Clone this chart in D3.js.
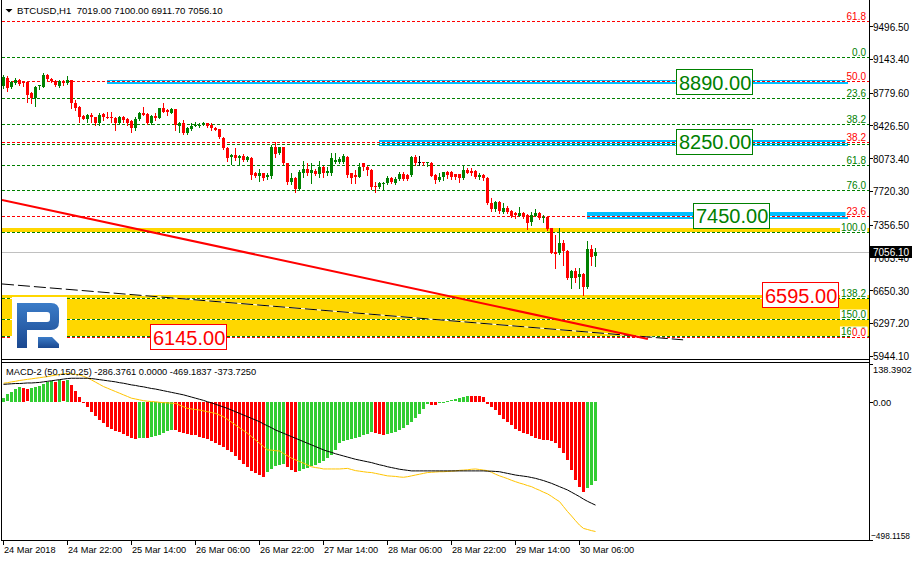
<!DOCTYPE html>
<html>
<head>
<meta charset="utf-8">
<script src="https://cdn.jsdelivr.net/npm/d3@7/dist/d3.min.js"></script>
<style>
html,body{margin:0;padding:0;background:#ffffff;overflow:hidden;}
svg{display:block;}
text{font-family:"Liberation Sans",Arial,sans-serif;}
</style>
</head>
<body>
<svg id="chart" width="912" height="561"></svg>
<script>
// ================= DATA =================
const chartTitle = "BTCUSD,H1  7019.00 7100.00 6911.70 7056.10";
const macdTitle = "MACD-2 (50,150,25) -286.3761 0.0000 -469.1837 -373.7250";

const opens = [
8850,8933,8836,8885,8915,8896,8890,8770,8717,8850,
8843,8965,8925,8907,8853,8903,8880,8915,8664,8627,
8527,8491,8537,8513,8449,8545,8520,8520,8509,8449,
8520,8491,8473,8400,8491,8556,8548,8449,8527,8509,
8610,8591,8562,8598,8423,8449,8340,8384,8420,8415,
8430,8449,8430,8400,8383,8293,8185,8082,8107,8078,
8100,8053,8071,7909,7883,7909,7865,7880,8189,8125,
8189,8017,7819,7862,7737,7909,7955,7909,7937,7902,
7980,7909,7909,8028,8035,8035,8089,7909,7891,7873,
8017,7974,7945,7772,7765,7790,7801,7855,7801,7844,
7898,7891,7891,8089,8030,8028,8017,8024,7891,7837,
7873,7927,7927,7898,7898,7855,7945,7935,7935,7865,
7891,7862,7592,7521,7603,7496,7532,7503,7478,7453,
7485,7460,7388,7453,7485,7424,7435,7316,7060,7054,
7155,7075,6777,6860,6790,6823,6681,7094,7019];
const highs = [
8969,8955,8905,8940,8925,8905,8900,8790,8850,8860,
8987,8980,8935,8918,8912,8915,8960,8920,8700,8635,
8535,8545,8555,8520,8555,8560,8566,8566,8515,8525,
8530,8500,8480,8520,8570,8627,8560,8535,8555,8615,
8664,8600,8610,8605,8465,8484,8412,8449,8465,8449,
8465,8455,8449,8412,8390,8300,8190,8115,8180,8105,
8115,8100,8080,7927,7952,7915,7909,8214,8250,8195,
8195,8025,7909,7870,7945,8042,8017,8017,7955,8042,
7990,7980,8125,8125,8080,8117,8100,7915,7945,8017,
8025,7985,7955,7820,7820,7820,7880,7865,7873,7927,
7920,7905,8100,8107,8096,8035,8035,8035,7900,7909,
7927,7935,7935,7905,7905,7999,7963,7963,7945,7909,
7900,7870,7640,7615,7615,7586,7557,7515,7496,7550,
7496,7470,7496,7521,7496,7460,7445,7325,7245,7316,
7190,7085,6870,6885,6885,6830,7180,7137,7100];
const lows = [
8829,8799,8830,8870,8860,8850,8680,8670,8637,8815,
8840,8915,8890,8850,8835,8865,8875,8610,8590,8465,
8490,8465,8465,8430,8430,8484,8500,8465,8376,8445,
8465,8430,8358,8376,8480,8535,8445,8445,8484,8505,
8565,8537,8555,8376,8358,8335,8335,8375,8415,8405,
8425,8412,8376,8375,8290,8170,8042,8010,8053,8010,
8045,8045,7848,7873,7830,7837,7845,7860,8089,8120,
8010,7794,7794,7711,7730,7873,7891,7808,7890,7873,
7873,7891,7891,8017,8020,8025,7873,7801,7801,7865,
7945,7891,7737,7711,7747,7729,7790,7801,7795,7837,
7837,7837,7880,8000,8000,8000,7990,7880,7801,7830,
7837,7855,7844,7844,7819,7850,7909,7891,7855,7844,
7837,7580,7507,7507,7478,7478,7478,7442,7424,7445,
7424,7309,7352,7445,7413,7388,7298,7050,6886,7045,
6922,6770,6670,6742,6670,6595,6670,6922,6911.7];
const closes = [
8947,8825,8896,8915,8870,8879,8753,8717,8843,8857,
8968,8922,8903,8860,8903,8880,8915,8664,8617,8513,
8498,8537,8513,8449,8537,8513,8510,8502,8455,8513,
8484,8455,8394,8491,8556,8537,8449,8527,8509,8610,
8573,8573,8598,8430,8449,8340,8394,8420,8430,8433,
8452,8423,8394,8380,8297,8178,8078,8107,8071,8096,
8053,8082,7891,7883,7909,7855,7891,8189,8114,8189,
8017,7819,7862,7737,7927,7952,7909,7945,7902,7980,
7909,7937,8071,8053,8060,8100,7891,7855,7873,7980,
7980,7945,7765,7765,7801,7808,7855,7819,7844,7898,
7844,7844,8089,8017,8030,8017,8028,7885,7837,7873,
7920,7891,7873,7873,7855,7945,7916,7909,7873,7891,
7855,7586,7521,7603,7503,7532,7496,7453,7460,7485,
7453,7370,7460,7485,7424,7435,7306,7054,7045,7155,
7075,6777,6860,6777,6823,6681,7094,7004,7056.1];

const macdHist = [
15,27,37,46,55,50,45,49,53,58,
64,71,76,72,78,74,80,62,38,18,
-4,-18,-35,-52,-65,-76,-90,-98,-105,-110,
-116,-124,-131,-134,-131,-129,-132,-127,-123,-118,
-112,-106,-101,-103,-107,-111,-115,-118,-121,-125,
-129,-134,-140,-147,-155,-163,-172,-182,-196,-210,
-223,-236,-248,-257,-264,-273,-253,-241,-231,-229,
-226,-235,-247,-253,-249,-244,-239,-233,-227,-220,
-212,-203,-193,-172,-150,-140,-137,-135,-131,-127,
-120,-114,-109,-113,-116,-119,-116,-113,-108,-102,
-94,-84,-72,-58,-42,-26,-8,-10,-11,-5,
-1,2,5,9,13,18,22,21.5,21,20,
17,-8,-18,-30,-46,-60,-72,-84,-96,-105,
-111,-117,-123,-129,-133,-136,-138,-142,-150,-165,
-186,-210,-247,-283,-307,-325,-312,-300,-286.3761];
const macdBlack = [
63,64,65,66,66,67,68,68,69,70,
72,74,76,78,80,82,84,85,85,85,
85,85,84,82,80,78,76,74,72,69,
67,64,61,59,56,54,51,48,46,43,
40,37,34,31,28,25,21,17,13,9,
5,0,-4,-9,-14,-19,-24,-30,-36,-42,
-48,-54,-60,-66,-72,-80,-87,-94,-102,-108,
-114,-120,-126,-132,-138,-144,-150,-156,-162,-168,
-174,-179,-183,-188,-192,-196,-200,-204,-208,-211,
-214,-217,-220,-224,-228,-231,-235,-238,-241,-244,
-246,-248,-250,-250,-250,-250,-250,-250,-250,-250,
-250,-250,-250,-250,-250,-250,-250,-250,-250,-250,
-250,-251,-251,-252,-253,-256,-259,-262,-265,-267,
-269,-271,-274,-277,-281,-285,-290,-295,-301,-307,
-313,-319,-327,-335,-343,-352,-360,-367,-373.725];
const macdYellow = [
67,69,72,74,77,79,81,83,85,87,
89,91,94,96,99,101,102,101,99,97,
92,86,79,71,63,55,49,43,37,31,
25,19,13,10,7,4,2,1,0,-2,
-3,-4,-5,-6,-12,-18,-24,-26,-28,-30,
-33,-36,-39,-42,-48,-54,-64,-74,-84,-94,
-104,-114,-126,-138,-150,-162,-174,-175,-177,-178,
-187,-195,-204,-210,-216,-222,-229,-235,-238,-240,
-243,-243,-243,-243,-243,-242,-241,-245,-249,-251,
-253,-255,-256,-259,-262,-265,-268,-269,-270,-272,
-273,-271,-268,-265,-262,-259,-256,-255,-254,-253,
-253,-252,-251,-250,-248,-247,-246,-244,-243,-245,
-247,-249,-255,-262,-268,-273,-278,-284,-289,-294,
-298,-303,-307,-314,-320,-327,-333,-342,-352,-361,
-379,-397,-413,-430,-446,-458,-462,-466,-469.1837];

const priceTicks = [9496.50, 9143.40, 8779.60, 8426.50, 8073.40, 7720.30, 7356.50, 7003.40, 6650.30, 6297.20, 5944.10];
const macdTicks = [138.3902, 0, -498.1158];
const timeLabels = ["24 Mar 2018","24 Mar 22:00","25 Mar 14:00","26 Mar 06:00","26 Mar 22:00","27 Mar 14:00","28 Mar 06:00","28 Mar 22:00","29 Mar 14:00","30 Mar 06:00"];
const timeLabelBars = [0,16,32,48,64,80,96,112,128,144];
const lastPrice = 7056.10;

// Fibonacci objects (price at 0% and at 100%)
const greenFibRange = [9160, 7282];
const greenFibLevels = [0, 23.6, 38.2, 50, 61.8, 76, 100, 138.2, 150, 160];
const greenFibText = ["0.0","23.6","38.2","","61.8","76.0","100.0","138.2","150.0","160.0"];
const redFibRange = [6145, 11655];
const redFibLevels = [0, 23.6, 38.2, 50, 61.8];
const redFibText = ["0.0","23.6","38.2","50.0","61.8"];

// zones (bar index start/end, price top/bottom)
const blueZoneStart = [25.8, 93.9, 145.9];
const blueZoneEnd = [211.1, 211.1, 211.1];
const blueZoneTop = [8915, 8272, 7490];
const blueZoneBottom = [8873, 8200, 7414];
const yellowZoneTop = [7318, 6595];
const yellowZoneBottom = [7262, 6145];

// trend lines (bar index, price)
const redTrendBars = [-0.375, 161.1];
const redTrendPrices = [7622, 6124];
const blackTrendBars = [-0.375, 169.9];
const blackTrendPrices = [6717, 6115];

// price text objects
const noteTexts = ["8890.00","8250.00","7450.00","6595.00","6145.00"];
const notePrices = [8890, 8250, 7450, 6595, 6145];
const noteBars = [168.9, 168.9, 173.1, 190.4, 37.4];
const noteKinds = ["up","up","up","down","down"];

// ================= DRAWING =================
const svg = d3.select("#chart");
const LEFT = 2, RIGHT = 869, MAIN_BOT = 359, MACD_TOP = 363, MACD_BOT = 540;
const n = opens.length;
const x = d3.scaleLinear().domain([0, 148]).range([3.5, 595.5]);
const y = d3.scaleLinear().domain([5944.1, 9496.5]).range([355.7, 26]);
const ym = d3.scaleLinear().domain([-498.1158, 138.3902]).range([539.5, 363.5]);

const GREEN = "#008000", RED = "#ff0000", BLUE = "#00bfff", GOLD = "#ffd700";

const defs = svg.append("defs");
defs.append("clipPath").attr("id","clipMain").append("rect")
  .attr("x", LEFT).attr("y", 0).attr("width", RIGHT - LEFT).attr("height", MAIN_BOT);
defs.append("clipPath").attr("id","clipMacd").append("rect")
  .attr("x", LEFT).attr("y", MACD_TOP).attr("width", RIGHT - LEFT).attr("height", MACD_BOT - MACD_TOP);
const grad = defs.append("linearGradient").attr("id","logoGrad").attr("x1",0).attr("y1",0).attr("x2",0).attr("y2",1);
grad.append("stop").attr("offset","0%").attr("stop-color","#3b7cc8");
grad.append("stop").attr("offset","100%").attr("stop-color","#1a4890");

const main = svg.append("g").attr("clip-path","url(#clipMain)");
const crisp = v => Math.round(v) + 0.5;

// yellow zones
main.selectAll("rect.yz").data(yellowZoneTop).join("rect")
  .attr("x", LEFT).attr("width", RIGHT - LEFT)
  .attr("y", (d,i) => Math.round(y(d)))
  .attr("height", (d,i) => Math.round(y(yellowZoneBottom[i])) - Math.round(y(d)))
  .attr("fill", GOLD);

// blue zones (filled)
main.selectAll("rect.bz").data(blueZoneTop).join("rect")
  .attr("x", (d,i) => Math.round(x(blueZoneStart[i])))
  .attr("width", (d,i) => Math.round(x(blueZoneEnd[i])) - Math.round(x(blueZoneStart[i])))
  .attr("y", d => Math.round(y(d)))
  .attr("height", (d,i) => Math.round(y(blueZoneBottom[i])) - Math.round(y(d)))
  .attr("fill", BLUE);

// dashed fib lines with white gaps
function fibLine(price, color) {
  const yy = crisp(y(price));
  main.append("line").attr("x1", LEFT).attr("x2", RIGHT).attr("y1", yy).attr("y2", yy)
    .attr("stroke", "#ffffff").attr("stroke-width", 1);
  main.append("line").attr("x1", LEFT).attr("x2", RIGHT).attr("y1", yy).attr("y2", yy)
    .attr("stroke", color).attr("stroke-width", 1).attr("stroke-dasharray", "3,2");
}
const greenFibPrice = l => greenFibRange[0] + (greenFibRange[1] - greenFibRange[0]) * l / 100;
const redFibPrice = l => redFibRange[0] + (redFibRange[1] - redFibRange[0]) * l / 100;
greenFibLevels.forEach(l => fibLine(greenFibPrice(l), GREEN));
redFibLevels.forEach(l => fibLine(redFibPrice(l), RED));

// current price line
main.append("line").attr("x1", LEFT).attr("x2", RIGHT)
  .attr("y1", crisp(y(lastPrice))).attr("y2", crisp(y(lastPrice)))
  .attr("stroke", "#c0c0c0").attr("stroke-width", 1);

// candles
const idx = d3.range(n);
const candleColor = i => closes[i] > opens[i] ? GREEN : (closes[i] < opens[i] ? RED : "#000000");
main.selectAll("line.wick").data(idx).join("line")
  .attr("x1", i => Math.floor(x(i)) + 0.5).attr("x2", i => Math.floor(x(i)) + 0.5)
  .attr("y1", i => Math.round(y(highs[i]))).attr("y2", i => Math.round(y(lows[i])) + 1)
  .attr("stroke", candleColor).attr("stroke-width", 1);
main.selectAll("rect.body").data(idx).join("rect")
  .attr("x", i => Math.floor(x(i)) - 1).attr("width", 3)
  .attr("y", i => Math.round(y(Math.max(opens[i], closes[i]))))
  .attr("height", i => Math.max(1, Math.round(y(Math.min(opens[i], closes[i]))) - Math.round(y(Math.max(opens[i], closes[i])))))
  .attr("fill", candleColor);

// trend lines
main.append("line")
  .attr("x1", x(blackTrendBars[0])).attr("y1", y(blackTrendPrices[0]))
  .attr("x2", x(blackTrendBars[1])).attr("y2", y(blackTrendPrices[1]))
  .attr("stroke", "#ffffff").attr("stroke-width", 1);
main.append("line")
  .attr("x1", x(blackTrendBars[0])).attr("y1", y(blackTrendPrices[0]))
  .attr("x2", x(blackTrendBars[1])).attr("y2", y(blackTrendPrices[1]))
  .attr("stroke", "#000000").attr("stroke-width", 1).attr("stroke-dasharray", "12,4");
main.append("line")
  .attr("x1", x(redTrendBars[0])).attr("y1", y(redTrendPrices[0]))
  .attr("x2", x(redTrendBars[1])).attr("y2", y(redTrendPrices[1]))
  .attr("stroke", RED).attr("stroke-width", 2);

// fib labels with white background
function fibLabel(price, txt, color) {
  if (!txt) return;
  const yy = Math.round(y(price));
  const t = main.append("text").attr("x", 866).attr("y", yy - 1.5)
    .attr("text-anchor", "end").attr("font-size", "10px").attr("fill", color).text(txt);
  const b = t.node().getBBox();
  main.insert("rect", function(){ return t.node(); })
    .attr("x", b.x - 1).attr("y", b.y + 1).attr("width", b.width + 2).attr("height", b.height - 1.5)
    .attr("fill", "#ffffff");
}
greenFibLevels.forEach((l, i) => fibLabel(greenFibPrice(l), greenFibText[i], GREEN));
redFibLevels.forEach((l, i) => fibLabel(redFibPrice(l), redFibText[i], RED));

// price note boxes
noteTexts.forEach((txt, i) => {
  const col = noteKinds[i] === "up" ? GREEN : RED;
  const cy = y(notePrices[i]);
  const tx = Math.round(x(noteBars[i]));
  const t = main.append("text").attr("x", tx).attr("y", cy + 7.5)
    .attr("font-size", "20px").attr("fill", col).text(txt);
  const b = t.node().getBBox();
  main.insert("rect", function(){ return t.node(); })
    .attr("x", tx - 2.5).attr("y", Math.round(cy) - 12.5)
    .attr("width", Math.round(b.width) + 4).attr("height", 25)
    .attr("fill", "#ffffff").attr("stroke", col).attr("stroke-width", 1);
});

// logo
const logo = svg.append("g");
logo.append("rect").attr("x", 12).attr("y", 297).attr("width", 55).attr("height", 50).attr("fill", "#ffffff");
logo.append("path")
  .attr("d", "M17,303 H51 Q59,303 59,311 V322 Q59,330 51,330 H27 V348 H17 Z M27,312 H47 Q50,312 50,315 V319 Q50,322 47,322 H27 Z")
  .attr("fill-rule", "evenodd").attr("fill", "url(#logoGrad)");
logo.append("path").attr("d", "M38,337 H52 L59,344 V348 H38 Z").attr("fill", "url(#logoGrad)");

// ---- MACD pane ----
const macd = svg.append("g").attr("clip-path", "url(#clipMacd)");
macd.selectAll("rect.hist").data(idx).join("rect")
  .attr("x", i => Math.floor(x(i)) - 1).attr("width", 3)
  .attr("y", i => Math.round(Math.min(ym(0), ym(macdHist[i]))))
  .attr("height", i => Math.max(1, Math.round(Math.abs(ym(macdHist[i]) - ym(0)))))
  .attr("fill", i => (i === 0 || macdHist[i] >= macdHist[i-1]) ? "#32cd32" : RED);
const lineGen = arr => d3.line().x((d, i) => Math.floor(x(i)) + 0.5).y(d => ym(d))(arr);
macd.append("path").attr("d", lineGen(macdYellow)).attr("fill", "none").attr("stroke", "#ffc400").attr("stroke-width", 1);
macd.append("path").attr("d", lineGen(macdBlack)).attr("fill", "none").attr("stroke", "#000000").attr("stroke-width", 1);

// ---- frames ----
const frame = svg.append("g").attr("stroke", "#000").attr("stroke-width", 1).attr("fill", "none");
frame.append("line").attr("x1", 1.5).attr("x2", 1.5).attr("y1", 0).attr("y2", MACD_BOT + 1);
frame.append("line").attr("x1", RIGHT + 0.5).attr("x2", RIGHT + 0.5).attr("y1", 0).attr("y2", MACD_BOT + 1);
frame.append("line").attr("x1", 1).attr("x2", RIGHT + 1).attr("y1", MAIN_BOT + 0.5).attr("y2", MAIN_BOT + 0.5);
frame.append("line").attr("x1", 1).attr("x2", RIGHT + 1).attr("y1", MACD_TOP - 0.5).attr("y2", MACD_TOP - 0.5);
frame.append("line").attr("x1", 1).attr("x2", RIGHT + 1).attr("y1", MACD_BOT + 0.5).attr("y2", MACD_BOT + 0.5);

// price axis
const pAxis = svg.append("g");
pAxis.selectAll("line").data(priceTicks).join("line")
  .attr("x1", RIGHT).attr("x2", RIGHT + 4)
  .attr("y1", d => crisp(y(d))).attr("y2", d => crisp(y(d))).attr("stroke", "#000");
pAxis.selectAll("text").data(priceTicks).join("text")
  .attr("x", RIGHT + 4).attr("y", d => y(d) + 4.5)
  .attr("font-size", "10px").attr("fill", "#000").text(d => d3.format(".2f")(d));
// current price label
svg.append("rect").attr("x", RIGHT).attr("y", Math.round(y(lastPrice)) - 6).attr("width", 912 - RIGHT).attr("height", 12).attr("fill", "#000");
svg.append("text").attr("x", RIGHT + 4).attr("y", y(lastPrice) + 4)
  .attr("font-size", "10px").attr("fill", "#fff").text(d3.format(".2f")(lastPrice));

// MACD axis
const mAxis = svg.append("g");
mAxis.selectAll("line").data(macdTicks).join("line")
  .attr("x1", RIGHT).attr("x2", RIGHT + 4)
  .attr("y1", d => crisp(ym(d))).attr("y2", d => crisp(ym(d))).attr("stroke", "#000");
mAxis.selectAll("text").data(macdTicks).join("text")
  .attr("x", d => d < 0 ? RIGHT + 2 : RIGHT + 4)
  .attr("y", d => Math.min(Math.max(ym(d), 369), 535) + 4)
  .attr("font-size", "9.3px").attr("fill", "#000")
  .each(function(d) { if (d < 0) d3.select(this).attr("textLength", 39).attr("lengthAdjust", "spacingAndGlyphs"); })
  .text(d => d === 0 ? "0.00" : d3.format(".4f")(d));

// time axis
const tAxis = svg.append("g");
tAxis.selectAll("line").data(timeLabelBars).join("line")
  .attr("x1", d => Math.floor(x(d)) + 0.5).attr("x2", d => Math.floor(x(d)) + 0.5)
  .attr("y1", MACD_BOT).attr("y2", MACD_BOT + 5).attr("stroke", "#000");
tAxis.selectAll("text").data(timeLabels).join("text")
  .attr("x", (d, i) => Math.floor(x(timeLabelBars[i])) + 1)
  .attr("y", 553).attr("font-size", "9.2px").attr("fill", "#000").text(d => d);

// titles
svg.append("path").attr("d", "M5.5,9 L12.5,9 L9,12.5 Z").attr("fill", "#000");
svg.append("text").attr("x", 17).attr("y", 14).attr("font-size", "9.6px").attr("fill", "#000")
  .attr("xml:space", "preserve").style("white-space", "pre").text(chartTitle);
svg.append("text").attr("x", 6).attr("y", 375).attr("font-size", "9.3px").attr("fill", "#000").text(macdTitle);
</script>
</body>
</html>
